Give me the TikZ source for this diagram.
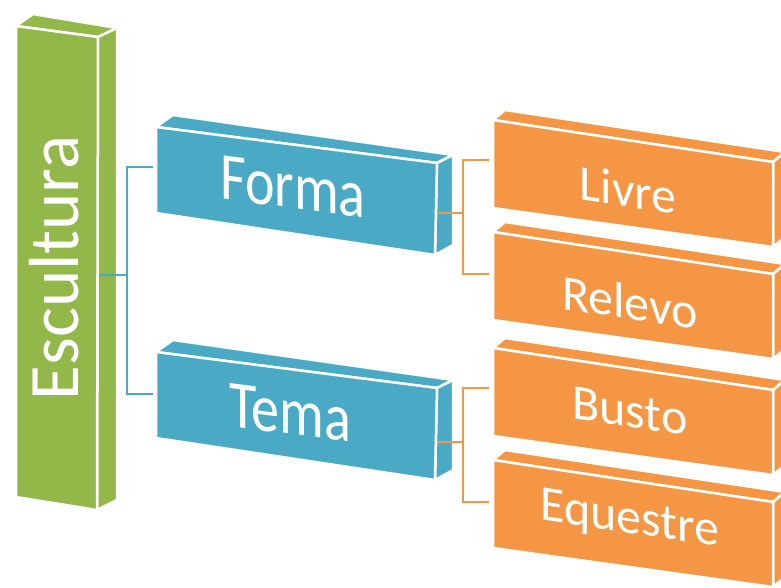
\documentclass[tikz,border=0pt]{standalone}
\usepackage{fontspec}
\setmainfont{Carlito}
\usepackage{tikz}

\definecolor{leafgreen}{HTML}{92B84A}
\definecolor{seablue}{HTML}{4AAAC6}
\definecolor{sunorange}{HTML}{F59644}

\begin{document}
\begin{tikzpicture}[x=1pt, y=-1pt,
	face/.style={draw=white, line width=2.5pt, line join=round},
	boxtext/.style={text=white, inner sep=0pt},
	bluelink/.style={draw=seablue, line width=2pt},
	orangelink/.style={draw=sunorange, line width=2pt}]

	\useasboundingbox (0,0) rectangle (781,587);
	\clip (0,0) rectangle (781,587);

	% Escultura
	\filldraw[face, fill=leafgreen] (16,26) -- (33,14) -- (117,28) -- (98,37) -- cycle;
	\filldraw[face, fill=leafgreen] (98,37) -- (117,28) -- (117,500) -- (97,510) -- cycle;
	\filldraw[face, fill=leafgreen] (16,26) -- (98,37) -- (97,510) -- (16,497) -- cycle;

	% Forma, Tema
	\filldraw[face, fill=seablue] (156,127) -- (173,115) -- (453,155) -- (437,163) -- cycle;
	\filldraw[face, fill=seablue] (437,163) -- (453,155) -- (453,245) -- (435,255) -- cycle;
	\filldraw[face, fill=seablue] (156,127) -- (437,163) -- (435,255) -- (156,213) -- cycle;

	\filldraw[face, fill=seablue] (156,352) -- (173,340) -- (453,380) -- (437,388) -- cycle;
	\filldraw[face, fill=seablue] (437,388) -- (453,380) -- (453,470) -- (435,480) -- cycle;
	\filldraw[face, fill=seablue] (156,352) -- (437,388) -- (435,480) -- (156,438) -- cycle;

	% Livre, Relevo, Busto, Equestre
	\filldraw[face, fill=sunorange] (493,120) -- (505,110) -- (785,152) -- (773,162) -- cycle;
	\filldraw[face, fill=sunorange] (773,162) -- (785,152) -- (785,237) -- (773,247) -- cycle;
	\filldraw[face, fill=sunorange] (493,120) -- (773,162) -- (773,247) -- (493,208) -- cycle;

	\filldraw[face, fill=sunorange] (493,232) -- (505,222) -- (785,264) -- (773,274) -- cycle;
	\filldraw[face, fill=sunorange] (773,274) -- (785,264) -- (785,349) -- (773,359) -- cycle;
	\filldraw[face, fill=sunorange] (493,232) -- (773,274) -- (773,359) -- (493,320) -- cycle;

	\filldraw[face, fill=sunorange] (493,348) -- (505,338) -- (785,380) -- (773,390) -- cycle;
	\filldraw[face, fill=sunorange] (773,390) -- (785,380) -- (785,465) -- (773,475) -- cycle;
	\filldraw[face, fill=sunorange] (493,348) -- (773,390) -- (773,475) -- (493,436) -- cycle;

	\filldraw[face, fill=sunorange] (493,460) -- (505,450) -- (785,492) -- (773,502) -- cycle;
	\filldraw[face, fill=sunorange] (773,502) -- (785,492) -- (785,577) -- (773,587) -- cycle;
	\filldraw[face, fill=sunorange] (493,460) -- (773,502) -- (773,587) -- (493,548) -- cycle;

	\node[boxtext, rotate=90, font=\fontsize{71}{71}\selectfont] (escultura) at (54,268) {Escultura};
	\node[boxtext, yslant=-0.13, yscale=1.2, font=\fontsize{56}{56}\selectfont] (forma) at (293,187) {Forma};
	\node[boxtext, yslant=-0.13, yscale=1.2, font=\fontsize{56}{56}\selectfont] (tema) at (290,413) {Tema};
	\node[boxtext, yslant=-0.15, font=\fontsize{50}{50}\selectfont] (livre) at (628,190) {Livre};
	\node[boxtext, yslant=-0.15, font=\fontsize{50}{50}\selectfont] (relevo) at (630,302) {Relevo};
	\node[boxtext, yslant=-0.15, font=\fontsize{50}{50}\selectfont] (busto) at (630,411) {Busto};
	\node[boxtext, yslant=-0.15, font=\fontsize{50}{50}\selectfont] (equestre) at (630,521) {Equestre};

	\coordinate (esculturaport) at (99,275);
	\coordinate (bluefork) at (127,275);
	\coordinate (formaport) at (153,167);
	\coordinate (temaport) at (153,394);

	\coordinate (formaout) at (437,213);
	\coordinate (formafork) at (463,213);
	\coordinate (livreport) at (489,160);
	\coordinate (relevoport) at (489,274);

	\coordinate (temaout) at (437,442);
	\coordinate (temafork) at (463,442);
	\coordinate (bustoport) at (489,388);
	\coordinate (equestreport) at (489,502);

	\draw[bluelink] (esculturaport) -- (bluefork) |- (formaport);
	\draw[bluelink] (bluefork) |- (temaport);

	\draw[orangelink] (formaout) -- (formafork) |- (livreport);
	\draw[orangelink] (formafork) |- (relevoport);
	\draw[orangelink] (temaout) -- (temafork) |- (bustoport);
	\draw[orangelink] (temafork) |- (equestreport);

\end{tikzpicture}
\end{document}
